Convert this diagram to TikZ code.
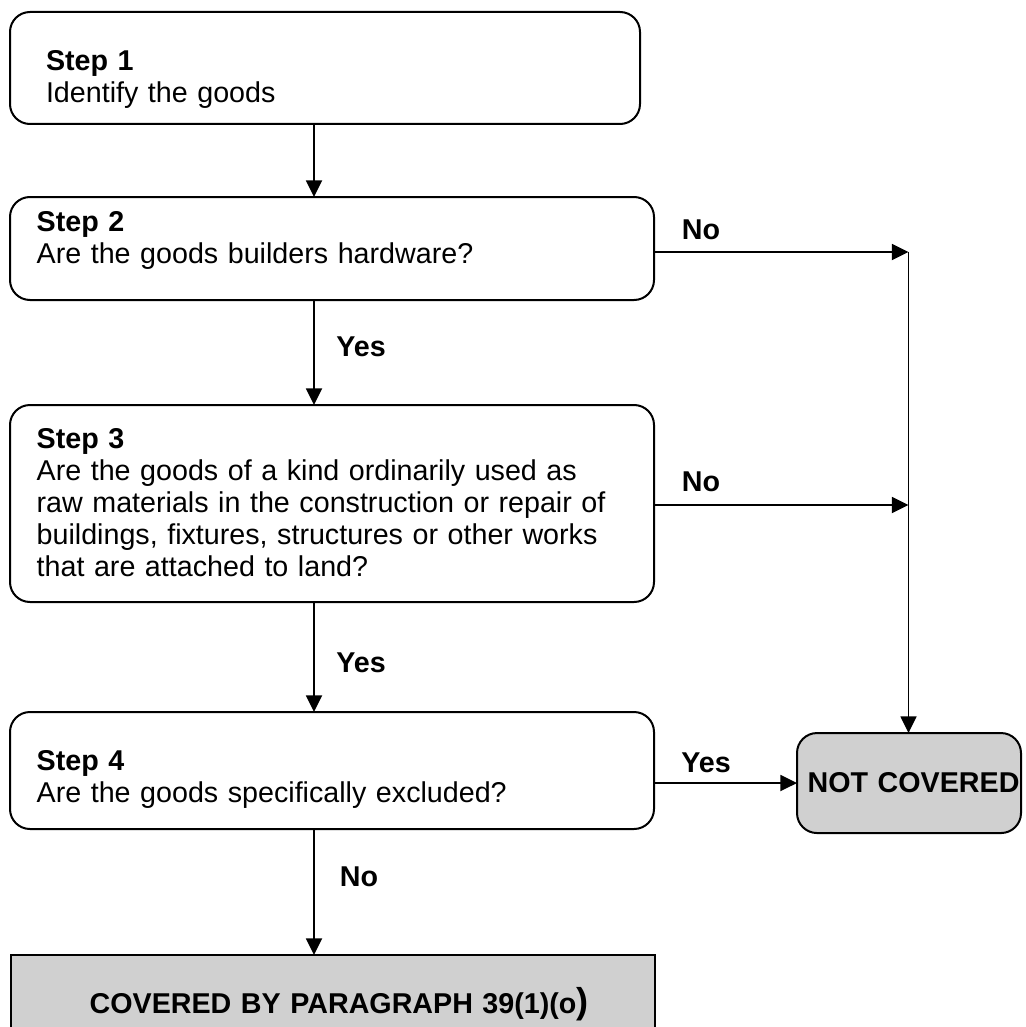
\documentclass[tikz,border=0pt]{standalone}
\usepackage{fontspec}
\setmainfont{Liberation Sans}
\usetikzlibrary{positioning,arrows.meta}

\definecolor{boxgray}{RGB}{208,208,208}

\tikzset{
	stepbox/.style = {rectangle, draw, line width=1.5pt, rounded corners=15pt,
		align=left, anchor=north west, inner ysep=0pt, outer sep=0pt,
		font=\fontsize{21.5}{24}\selectfont},
	endbox/.style = {rectangle, draw, line width=1.5pt, fill=boxgray, outer sep=0pt,
		align=left, inner sep=0pt, font=\bfseries\fontsize{21.5}{26}\selectfont},
	answer/.style = {inner sep=0pt, font=\bfseries\fontsize{21.5}{26}\selectfont},
	line/.style = {draw, line width=1.4pt, -{Triangle[length=12.5pt,width=12pt]}},
	line1/.style = {line, line width=1.1pt}
}

\begin{document}
\begin{tikzpicture}[x=0.75pt, y=-0.75pt]
		\useasboundingbox (0,0) rectangle (1025,1027);
		
		\node [stepbox, minimum width=472.5pt, minimum height=84pt, inner xsep=27pt, text width=418.5pt] (s1) at (10,12)
			{\rule{0pt}{32pt}\textbf{Step 1}\\Identify the goods};
		\node [stepbox, below=54.75pt of s1.south west, anchor=north west, minimum width=483pt, minimum height=77.25pt, inner xsep=20pt, text width=443pt] (s2)
			{\textbf{Step 2}\\Are the goods builders hardware?\rule[-16pt]{0pt}{16pt}};
		\node [stepbox, below=78.75pt of s2.south west, anchor=north west, minimum width=483pt, minimum height=147.75pt, inner xsep=20pt, text width=443pt] (s3)
			{\textbf{Step 3}\\Are the goods of a kind ordinarily used as\\raw materials in the construction or repair of\\buildings, fixtures, structures or other works\\that are attached to land?\rule[-1pt]{0pt}{1pt}};
		\node [stepbox, below=82.5pt of s3.south west, anchor=north west, minimum width=483pt, minimum height=87.75pt, inner xsep=20pt, text width=443pt] (s4)
			{\rule{0pt}{28pt}\textbf{Step 4}\\Are the goods specifically excluded?};
		
		%outcomes
		\node [endbox, rounded corners=15pt, right=107.25pt of s4, yshift=-9.4pt, minimum width=168pt, minimum height=75pt, text width=168pt] (nc)
			{\hspace*{8pt}NOT COVERED};
		\node [endbox, below=94.5pt of s4.south west, anchor=north west, xshift=0.75pt, minimum width=483pt, minimum height=73.5pt, text width=483pt] (cov)
			{\hspace*{59pt}COVERED BY PARAGRAPH 39(1)(o{\fontsize{27}{27}\selectfont)}};
		
		\coordinate (spine) at (314,0);
		\coordinate (j2) at (908.5,252);
		\coordinate (j3) at (908.5,505);
		
		\path [line] (s1.south -| spine) -- (s2.north -| spine);
		\path [line] (s2.south -| spine) -- (s3.north -| spine);
		\path [line] (s3.south -| spine) -- (s4.north -| spine);
		\path [line] (s4.south -| spine) -- (cov.north -| spine);
		
		\path [line] (s2.east |- j2) -- (j2);
		\path [line] (s3.east |- j3) -- (j3);
		\path [line1] (j2) -- (j2 |- nc.north);
		\path [line] (s4.east |- nc.west) -- (nc.west);
		
		\node [answer] (yes2) at (361,347) {Yes};
		\node [answer] (yes3) at (361,663) {Yes};
		\node [answer] (no4) at (359,877) {No};
		\node [answer] (no2) at (701,230) {No};
		\node [answer] (no3) at (701,482) {No};
		\node [answer] (yes4) at (706,763) {Yes};
		
	\end{tikzpicture}
\end{document}
